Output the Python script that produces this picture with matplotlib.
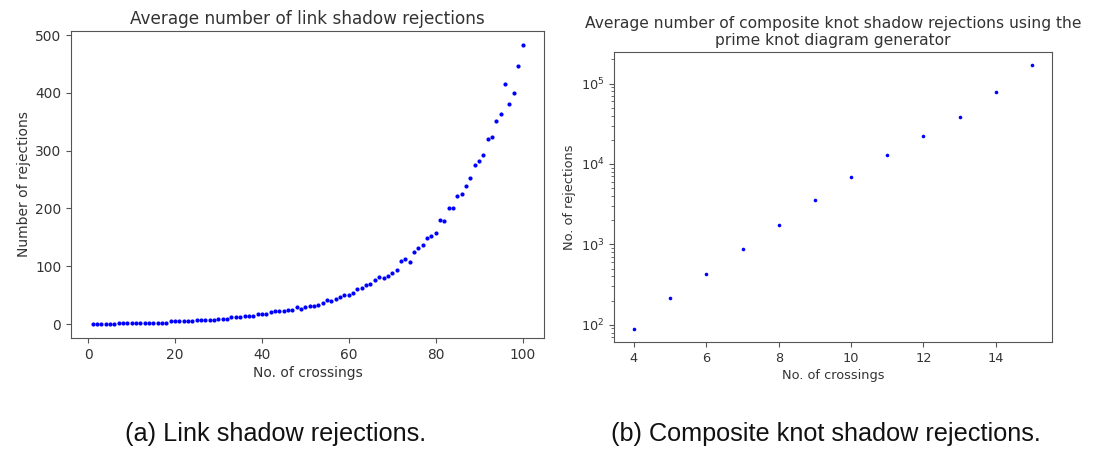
import matplotlib
matplotlib.use("Agg")
import matplotlib.pyplot as plt
from matplotlib import font_manager as fm

# ---- data ----
link_crossings = list(range(1, 101))
link_rejections = [
    0, 0, 0, 0, 0, 0, 2.5, 2.5, 2.5, 2.5,
    2.5, 2.5, 2.5, 2.5, 2.5, 2.5, 2.5, 2.5, 5, 5,
    5, 5, 5, 5, 7.5, 7.5, 7.5, 6.5, 6.5, 9,
    9, 9, 11.5, 11.5, 11.5, 14, 14, 14, 17, 17,
    18, 20, 22, 22, 22, 25, 25, 29, 26, 29,
    31, 32, 33, 36, 41, 40, 43, 46, 51, 50,
    54, 60, 63, 67, 70, 77, 82, 79, 83, 89,
    94, 109, 112, 107, 124, 131, 137, 149, 153, 158,
    180, 178, 200, 200, 221, 225, 239, 253, 275, 283,
    293, 320, 324, 351, 363, 415, 380, 400, 447, 483,
]

knot_crossings = [4, 5, 6, 7, 8, 9, 10, 11, 12, 13, 14, 15]
knot_rejections = [89, 213, 426, 880, 1760, 3510, 6950, 12800, 22500, 38500, 79500, 169000]

titles = ["Average number of link shadow rejections",
          "Average number of composite knot shadow rejections using the\nprime knot diagram generator"]
xlabels = ["No. of crossings", "No. of crossings"]
ylabels = ["Number of rejections", "No. of rejections"]
captions = ["(a) Link shadow rejections.", "(b) Composite knot shadow rejections."]

# ---- style ----
plt.rcParams['font.family'] = ['DejaVu Sans']
text_col = '#333333'
spine_col = '#555555'

cap_size = 18.2
cap_prop = fm.FontProperties(family=['Liberation Sans', 'DejaVu Sans'], size=cap_size)

fig = plt.figure(figsize=(10.99, 4.5), dpi=100)
ax1 = fig.add_axes([71/1099, 1-338/450, 473/1099, 307/450])
ax2 = fig.add_axes([614/1099, 1-342/450, 438/1099, 290/450])

ax1.plot(link_crossings, link_rejections, 'o', color='blue', ms=3.0, mew=0)
ax1.set_xticks([0, 20, 40, 60, 80, 100])
ax1.set_yticks([0, 100, 200, 300, 400, 500])

ax2.plot(knot_crossings, knot_rejections, 'o', color='blue', ms=2.6, mew=0)
ax2.set_yscale('log')
ax2.set_xticks([4, 6, 8, 10, 12, 14])

sizes = [(12.2, 10.0, 9.9), (11.2, 9.3, 9.3)]
for ax, t, xl, yl, (ts, ls, ks) in zip([ax1, ax2], titles, xlabels, ylabels, sizes):
    ax.set_title(t, fontsize=ts, color=text_col, pad=5)
    ax.set_xlabel(xl, fontsize=ls, color=text_col, labelpad=3)
    ax.set_ylabel(yl, fontsize=ls, color=text_col, labelpad=3)
    ax.tick_params(labelsize=ks, colors=spine_col, labelcolor=text_col)
    ax.tick_params(which='minor', colors=spine_col)
    for s in ax.spines.values():
        s.set_color(spine_col)

fig.text(276/1099, 1-434/450, captions[0], fontproperties=cap_prop,
         ha='center', va='center', color='#111111')
fig.text(826/1099, 1-434/450, captions[1], fontproperties=cap_prop,
         ha='center', va='center', color='#111111')

fig.savefig("out.png", dpi=100)
